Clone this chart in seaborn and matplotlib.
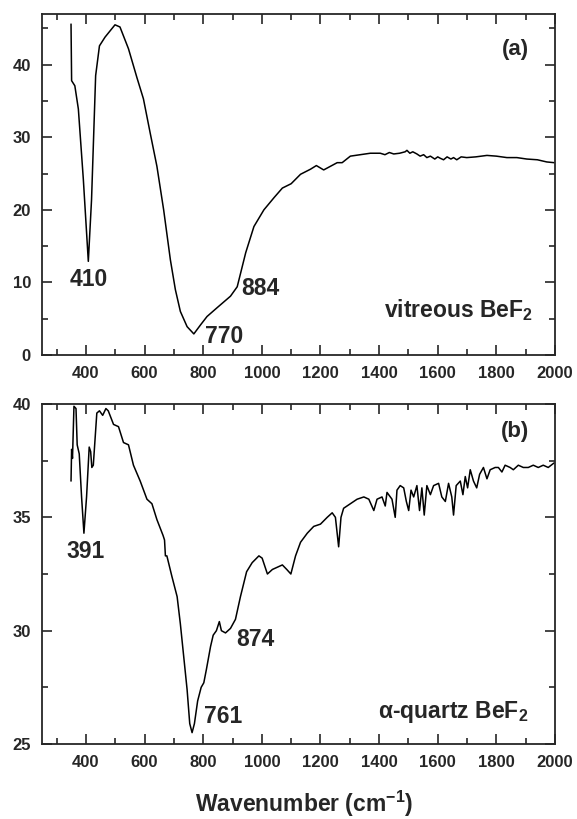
import matplotlib
matplotlib.use("Agg")
import matplotlib.pyplot as plt
import seaborn as sns
import pandas as pd
from matplotlib.ticker import MultipleLocator

# -----------------------------
# Datos
# -----------------------------
# (a) vitreous BeF2
wn_a = [349, 351, 362, 374, 391, 408, 419, 433, 446, 465, 499, 516, 545, 574,
        596, 619, 642, 665, 688, 705, 722, 745, 768, 790, 813, 847, 893, 916,
        945, 973, 1007, 1042, 1070, 1100, 1132, 1166, 1186, 1211, 1234, 1257,
        1274, 1302, 1336, 1370, 1404, 1420, 1435, 1450, 1470, 1489, 1495, 1505,
        1515, 1529, 1540, 1552, 1563, 1575, 1590, 1600, 1609, 1620, 1632, 1645,
        1654, 1665, 1680, 1699, 1730, 1768, 1800, 1836, 1870, 1904, 1940, 1972,
        1997]
val_a = [45.6, 37.8, 37.1, 33.9, 24.2, 12.9, 21.4, 38.5, 42.6, 43.8, 45.5, 45.2,
         42.2, 38.2, 35.3, 30.6, 26.0, 20.0, 13.1, 9.0, 6.0, 3.9, 2.9, 4.1, 5.3,
         6.5, 8.1, 9.4, 14.1, 17.7, 20.0, 21.7, 23.0, 23.6, 24.9, 25.6, 26.1,
         25.5, 26.0, 26.5, 26.5, 27.4, 27.6, 27.8, 27.8, 27.6, 27.9, 27.7, 27.8,
         28.0, 28.2, 27.8, 28.0, 27.7, 27.4, 27.6, 27.2, 27.4, 27.0, 27.3, 27.1,
         26.9, 27.3, 27.0, 27.2, 26.9, 27.3, 27.2, 27.3, 27.5, 27.4, 27.2, 27.2,
         27.0, 26.9, 26.6, 26.5]

# (b) alpha-quartz BeF2
wn_b = [349, 351, 354, 359, 366, 370, 377, 385, 393, 402, 411, 416, 420, 425,
        437, 446, 457, 468, 476, 494, 511, 528, 545, 562, 585, 608, 625, 642,
        663, 668, 671, 676, 693, 711, 722, 733, 745, 754, 762, 770, 781, 793,
        802, 811, 825, 834, 845, 855, 862, 876, 893, 910, 927, 948, 967, 990,
        1001, 1019, 1036, 1053, 1070, 1085, 1099, 1115, 1132, 1155, 1177, 1200,
        1223, 1240, 1251, 1262, 1270, 1279, 1302, 1325, 1348, 1365, 1382, 1393,
        1410, 1421, 1427, 1444, 1455, 1461, 1472, 1484, 1493, 1501, 1509, 1518,
        1529, 1538, 1546, 1554, 1563, 1575, 1586, 1603, 1614, 1626, 1637, 1648,
        1654, 1663, 1677, 1686, 1694, 1702, 1711, 1722, 1733, 1743, 1756, 1768,
        1779, 1796, 1807, 1819, 1830, 1847, 1858, 1875, 1892, 1909, 1926, 1943,
        1960, 1977, 1997]
val_b = [36.6, 38.0, 37.6, 39.9, 39.8, 38.2, 37.8, 35.9, 34.3, 35.9, 38.1, 37.9,
         37.2, 37.3, 39.6, 39.7, 39.5, 39.8, 39.7, 39.1, 39.0, 38.3, 38.2, 37.3,
         36.6, 35.8, 35.6, 34.9, 34.2, 34.0, 33.3, 33.3, 32.4, 31.5, 30.3, 28.9,
         27.4, 25.9, 25.5, 25.9, 26.9, 27.5, 27.7, 28.3, 29.3, 29.8, 30.0, 30.4,
         30.0, 29.9, 30.1, 30.5, 31.5, 32.6, 33.0, 33.3, 33.2, 32.5, 32.7, 32.8,
         32.9, 32.7, 32.5, 33.3, 33.9, 34.3, 34.6, 34.7, 35.0, 35.2, 35.0, 33.7,
         35.0, 35.4, 35.6, 35.8, 35.9, 35.8, 35.3, 35.8, 35.9, 35.5, 36.1, 35.8,
         35.0, 36.2, 36.4, 36.3, 35.7, 35.3, 36.2, 35.9, 36.4, 35.3, 36.3, 35.1,
         36.4, 36.0, 36.4, 36.5, 35.9, 35.7, 36.5, 35.9, 35.1, 36.4, 36.6, 36.0,
         36.8, 36.3, 37.1, 36.6, 36.3, 36.9, 37.2, 36.7, 37.1, 37.2, 37.2, 37.0,
         37.3, 37.2, 37.1, 37.3, 37.2, 37.2, 37.3, 37.2, 37.3, 37.2, 37.4]

# Etiquetas de picos: (texto, x, y)
picos_a = [("410", 345, 10.4), ("770", 805, 2.5), ("884", 930, 9.2)]
picos_b = [("391", 335, 33.5), ("761", 803, 26.2), ("874", 913, 29.6)]

df_a = pd.DataFrame({"wn": wn_a, "val": val_a})
df_b = pd.DataFrame({"wn": wn_b, "val": val_b})

# -----------------------------
# Estilo
# -----------------------------
sns.set_style("ticks")
plt.rcParams["font.family"] = ["Liberation Sans", "DejaVu Sans"]
plt.rcParams["font.weight"] = "bold"
plt.rcParams["mathtext.default"] = "regular"
plt.rcParams["axes.linewidth"] = 1.3

fig = plt.figure(figsize=(5.77, 8.19), dpi=100)
ax1 = fig.add_axes([0.0728, 0.5666, 0.889, 0.4164])
ax2 = fig.add_axes([0.0728, 0.0916, 0.889, 0.4151])

sns.lineplot(data=df_a, x="wn", y="val", ax=ax1, color="black", lw=1.1,
             estimator=None, sort=False)
sns.lineplot(data=df_b, x="wn", y="val", ax=ax2, color="black", lw=1.1,
             estimator=None, sort=False)

ax1.set_xlim(250, 2000)
ax1.set_ylim(0, 47)
ax1.yaxis.set_major_locator(MultipleLocator(10))
ax1.yaxis.set_minor_locator(MultipleLocator(5))

ax2.set_xlim(250, 2000)
ax2.set_ylim(25, 40)
ax2.yaxis.set_major_locator(MultipleLocator(5))
ax2.yaxis.set_minor_locator(MultipleLocator(2.5))

for ax in (ax1, ax2):
    ax.xaxis.set_major_locator(MultipleLocator(200))
    ax.xaxis.set_minor_locator(MultipleLocator(100))
    ax.tick_params(which="both", direction="in", top=True, right=True,
                   width=1.2, labelsize=12)
    ax.tick_params(which="major", length=7)
    ax.tick_params(which="minor", length=4)
    ax.tick_params(axis="x", which="major", pad=8)
    ax.tick_params(axis="y", which="major", pad=8)
    ax.set_xlabel("")
    ax.set_ylabel("")
    ax.set_xticks([400, 600, 800, 1000, 1200, 1400, 1600, 1800, 2000])
    for lab in ax.get_xticklabels() + ax.get_yticklabels():
        lab.set_fontweight("bold")

for txt, x, y in picos_a:
    ax1.text(x, y, txt, fontsize=16.5, fontweight="bold", va="center", ha="left")
for txt, x, y in picos_b:
    ax2.text(x, y, txt, fontsize=16.5, fontweight="bold", va="center", ha="left")

ax1.text(1818, 42.1, "(a)", fontsize=16, fontweight="bold", va="center", ha="left")
ax1.text(1925, 6.2, "vitreous BeF$_2$", fontsize=16.5, fontweight="bold",
         va="center", ha="right")
ax2.text(1815, 38.8, "(b)", fontsize=16, fontweight="bold", va="center", ha="left")
ax2.text(1910, 26.4, "α-quartz BeF$_2$", fontsize=16.5, fontweight="bold",
         va="center", ha="right")

fig.text(0.527, 1 - 804 / 819, "Wavenumber (cm$^{-1}$)", fontsize=16.5,
         fontweight="bold", ha="center", va="center")

fig.savefig("out.png", dpi=100)
